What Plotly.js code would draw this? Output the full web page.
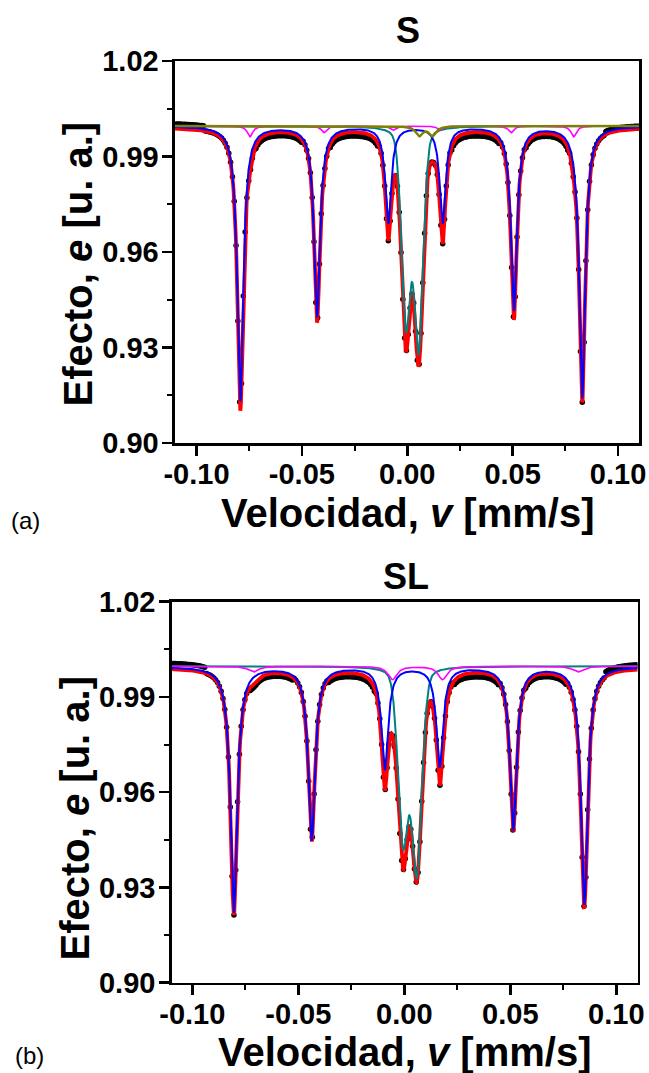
<!DOCTYPE html>
<html><head><meta charset="utf-8">
<script src="https://cdn.plot.ly/plotly-3.0.1.min.js"></script>
<style>html,body{margin:0;padding:0;background:#fff}#chart{width:649px;height:1073px}</style>
</head><body><div id="chart"></div>
<script>
// ---------- measurement channels ----------
const channelStart = -0.1096, channelStep = 0.00086, channelCount = 256;
const fitStart = -0.1102, fitStep = 0.0002, fitCount = 1103;
const doubletEta = 0.25;   // Lorentzian fraction of the doublet line shape

// ---------- panel (a) : S ----------
const sSextetPos      = [-0.0792, -0.0428, -0.0090, 0.0168, 0.0506, 0.0830];
const sBlueDepth      = [0.0863, 0.0598, 0.0303, 0.0303, 0.0578, 0.0853];
const sRedSextetDepth = [0.0884, 0.0605, 0.0328, 0.0337, 0.0588, 0.0857];
const sSextetHwhm     = 0.0017;
const sDoubletPos      = [-0.0006, 0.0054];
const sTealDepth       = [0.0612, 0.0686];
const sRedDoubletDepth = [0.0643, 0.0672];
const sDoubletHwhm     = 0.0025;
const sMagPos   = [-0.0746, -0.0395, -0.0067, 0.0155, 0.0492, 0.0789];
const sMagDepth = [0.0034, 0.0021, 0.0013, 0.0013, 0.0021, 0.0034];
const sMagHwhm  = [0.0015, 0.0015, 0.0015, 0.0015, 0.0015, 0.0015];
const sOlivePos   = [0.0057, 0.0120];
const sOliveDepth = [0.0030, 0.0030];
const sOliveHwhm  = 0.0020;
const sBase = {red: 0.9991, blue: 0.9996, teal: 0.9996, mag: 0.9996, olive: 0.9996};
const sResidStart = [-0.111, -0.072, -0.037, 0.021, 0.056, 0.094];
const sResidEnd   = [-0.096, -0.050, -0.014, 0.044, 0.077, 0.111];
const sResidValue = [0.0015, -0.0011, -0.0012, -0.0012, -0.0010, 0.0009];

// ---------- panel (b) : SL ----------
const slSextetPos      = [-0.0804, -0.0437, -0.0092, 0.0167, 0.0514, 0.0849];
const slBlueDepth      = [0.0774, 0.0544, 0.0322, 0.0312, 0.0512, 0.0748];
const slRedSextetDepth = [0.0775, 0.0544, 0.0348, 0.0319, 0.0510, 0.0744];
const slSextetHwhm     = 0.0019;
const slDoubletPos      = [-0.0006, 0.0059];
const slTealDepth       = [0.0541, 0.0636];
const slRedDoubletDepth = [0.0568, 0.0621];
const slDoubletHwhm     = 0.0028;
const slMagPos   = [-0.0712, -0.0056, 0.0180, 0.0818];
const slMagDepth = [0.0018, 0.0042, 0.0042, 0.0018];
const slMagHwhm  = [0.0030, 0.0025, 0.0025, 0.0030];
const slBase = {red: 0.9992, blue: 0.9996, teal: 0.9997, mag: 0.9997};
const slResidStart = [-0.111, -0.073, -0.036, 0.023, 0.057, 0.095];
const slResidEnd   = [-0.094, -0.052, -0.014, 0.045, 0.077, 0.111];
const slResidValue = [0.0018, -0.0010, -0.0012, -0.0013, -0.0010, 0.0015];

// ---------- tick labels ----------
const xTickVals = [-0.10, -0.05, 0.00, 0.05, 0.10];
const xTickText = ['-0.10', '-0.05', '0.00', '0.05', '0.10'];
const xMinorVals = [-0.075, -0.025, 0.025, 0.075];
const yTickVals = [0.90, 0.93, 0.96, 0.99, 1.02];
const yTickText = ['0.90', '0.93', '0.96', '0.99', '1.02'];
const yMinorVals = [0.915, 0.945, 0.975, 1.005];

// ---------- line shape helpers ----------
function dip(x, pos, depth, hwhm, eta) {
  let s = 0;
  for (let i = 0; i < pos.length; i++) {
    const h = Array.isArray(hwhm) ? hwhm[i] : hwhm;
    const r = ((x - pos[i]) / h) ** 2;
    s += depth[i] * (eta / (1 + r) + (1 - eta) * Math.exp(-Math.LN2 * r));
  }
  return s;
}
function grid(start, step, n) { const a = []; for (let i = 0; i < n; i++) a.push(start + i * step); return a; }
const fitX = grid(fitStart, fitStep, fitCount);
const chanX = grid(channelStart, channelStep, channelCount);
function resid(x, st, en, val) { let r = 0; for (let i = 0; i < st.length; i++) if (x >= st[i] && x <= en[i]) r += val[i]; return r; }

const sRed = x => sBase.red - dip(x, sSextetPos, sRedSextetDepth, sSextetHwhm, 1)
  - dip(x, sDoubletPos, sRedDoubletDepth, sDoubletHwhm, doubletEta)
  - dip(x, sMagPos, sMagDepth, sMagHwhm, 1) - dip(x, sOlivePos, sOliveDepth, sOliveHwhm, 1);
const slRed = x => slBase.red - dip(x, slSextetPos, slRedSextetDepth, slSextetHwhm, 1)
  - dip(x, slDoubletPos, slRedDoubletDepth, slDoubletHwhm, doubletEta)
  - dip(x, slMagPos, slMagDepth, slMagHwhm, 1);

function line(xa, ya, y, color, width) {
  return {type: 'scatter', mode: 'lines', x: fitX, y: y, xaxis: xa, yaxis: ya,
          line: {color: color, width: width}, hoverinfo: 'skip'};
}
function dots(xa, ya, y) {
  return {type: 'scatter', mode: 'markers', x: chanX, y: y, xaxis: xa, yaxis: ya,
          marker: {color: '#000', size: 5.5}, hoverinfo: 'skip'};
}

const traces = [
  // panel (a)
  dots('x', 'y', chanX.map(x => sRed(x) + resid(x, sResidStart, sResidEnd, sResidValue))),
  line('x', 'y', fitX.map(sRed), '#ff0000', 3.8),
  line('x', 'y', fitX.map(x => sBase.teal - dip(x, sDoubletPos, sTealDepth, sDoubletHwhm, doubletEta)), '#008080', 2),
  line('x', 'y', fitX.map(x => sBase.blue - dip(x, sSextetPos, sBlueDepth, sSextetHwhm, 1)), '#0000ff', 2),
  line('x', 'y', fitX.map(x => sBase.mag - dip(x, sMagPos, sMagDepth, sMagHwhm, 1)), '#ff00ff', 1.6),
  line('x', 'y', fitX.map(x => sBase.olive - dip(x, sOlivePos, sOliveDepth, sOliveHwhm, 1)), '#808000', 2.4),
  // panel (b)
  dots('x2', 'y2', chanX.map(x => slRed(x) + resid(x, slResidStart, slResidEnd, slResidValue))),
  line('x2', 'y2', fitX.map(slRed), '#ff0000', 3.8),
  line('x2', 'y2', fitX.map(x => slBase.teal - dip(x, slDoubletPos, slTealDepth, slDoubletHwhm, doubletEta)), '#008080', 2),
  line('x2', 'y2', fitX.map(x => slBase.blue - dip(x, slSextetPos, slBlueDepth, slSextetHwhm, 1)), '#0000ff', 2),
  line('x2', 'y2', fitX.map(x => slBase.mag - dip(x, slMagPos, slMagDepth, slMagHwhm, 1)), '#ff00ff', 1.6)
];

const FONT = 'Liberation Sans, Arial, Helvetica, sans-serif';
const tickFont = {family: FONT, size: 29, color: '#000', weight: 'bold'};
function xAxis(domain, range, anchor) {
  return {domain: domain, range: range, anchor: anchor, tickmode: 'array', tickvals: xTickVals, ticktext: xTickText,
    ticks: 'outside', ticklen: 10, tickwidth: 2.5, tickcolor: '#000', showline: true, linewidth: 2.5, linecolor: '#000',
    mirror: true, showgrid: false, zeroline: false, tickfont: tickFont, ticklabelstandoff: -6,
    minor: {tickmode: 'array', tickvals: xMinorVals, ticks: 'outside', ticklen: 5, tickwidth: 2, tickcolor: '#000', showgrid: false}};
}
function yAxis(domain, anchor) {
  return {domain: domain, range: [0.90, 1.02], anchor: anchor, tickmode: 'array', tickvals: yTickVals, ticktext: yTickText,
    ticks: 'outside', ticklen: 10, tickwidth: 2.5, tickcolor: '#000', showline: true, linewidth: 2.5, linecolor: '#000',
    mirror: true, showgrid: false, zeroline: false, tickfont: tickFont, ticklabelstandoff: -2,
    minor: {tickmode: 'array', tickvals: yMinorVals, ticks: 'outside', ticklen: 5, tickwidth: 2, tickcolor: '#000', showgrid: false}};
}
function ann(text, x, y, size, weight, angle) {
  return {text: text, x: x, y: y, xref: 'paper', yref: 'paper', xanchor: 'center', yanchor: 'middle',
    showarrow: false, textangle: angle || 0, font: {family: FONT, size: size, color: '#000', weight: weight}};
}

const layout = {
  width: 649, height: 1073, margin: {l: 0, r: 0, t: 0, b: 0},
  paper_bgcolor: '#fff', plot_bgcolor: '#fff', showlegend: false,
  xaxis: xAxis([0.2696, 0.9851], [-0.1102, 0.1101], 'y'),
  yaxis: yAxis([0.5871, 0.9431], 'x'),
  xaxis2: xAxis([0.2646, 0.9823], [-0.1097, 0.1100], 'y2'),
  yaxis2: yAxis([0.0843, 0.4392], 'x2'),
  annotations: [
    ann('S', 0.6287, 0.9718, 36, 'bold'),
    ann('SL', 0.6256, 0.4625, 36, 'bold'),
    ann('Velocidad, <i>v</i> [mm/s]', 0.6279, 0.5215, 40, 'bold'),
    ann('Velocidad, <i>v</i> [mm/s]', 0.6240, 0.0195, 40, 'bold'),
    ann('Efecto, <i>e</i> [u. a.]', 0.1194, 0.7540, 40, 'bold', -90),
    ann('Efecto, <i>e</i> [u. a.]', 0.1156, 0.2372, 40, 'bold', -90),
    ann('(a)', 0.0400, 0.5147, 24, 'normal'),
    ann('(b)', 0.0462, 0.0160, 24, 'normal')
  ]
};

Plotly.newPlot('chart', traces, layout, {staticPlot: true, displayModeBar: false});
</script></body></html>
